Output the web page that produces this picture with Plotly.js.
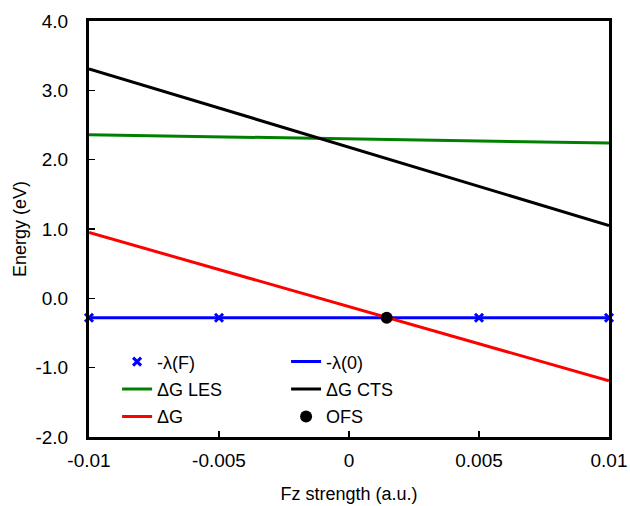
<!DOCTYPE html>
<html><head><meta charset="utf-8">
<script src="https://cdn.plot.ly/plotly-3.0.1.min.js"></script>
<style>body{margin:0;background:#fff}#c{width:630px;height:506px}</style>
</head><body><div id="c"></div>
<script>
// Data
const xEnds = [-0.01, 0.01];
const lambdaMarkX = [-0.01, -0.005, 0.005, 0.01];
const lambdaMarkY = [-0.28, -0.28, -0.28, -0.28];
const lambda0Y = [-0.28, -0.28];
const dgLES = [2.36, 2.24];
const dgCTS = [3.31, 1.05];
const dG = [0.95, -1.19];
const ofsX = [0.00145];
const ofsY = [-0.28];
const xTicks = [-0.01, -0.005, 0, 0.005, 0.01];
const xTickText = ['-0.01', '-0.005', '0', '0.005', '0.01'];
const yTicks = [-2, -1, 0, 1, 2, 3, 4];
const yTickText = ['-2.0', '-1.0', '0.0', '1.0', '2.0', '3.0', '4.0'];

const traces = [
  {x: xEnds, y: lambda0Y, mode: 'lines', name: '-λ(0)', line: {color: '#0000FF', width: 3}, legend: 'legend2', legendgroup: 'b', legendrank: 1},
  {x: lambdaMarkX, y: lambdaMarkY, mode: 'markers', name: '-λ(F)', marker: {symbol: 'x-thin', size: 8, color: '#0000FF', line: {color: '#0000FF', width: 3}}, legend: 'legend', legendgroup: 'a', legendrank: 1, cliponaxis: false},
  {x: xEnds, y: dgLES, mode: 'lines', name: 'ΔG LES', line: {color: '#008000', width: 3}, legend: 'legend', legendgroup: 'c', legendrank: 2},
  {x: xEnds, y: dgCTS, mode: 'lines', name: 'ΔG CTS', line: {color: '#000000', width: 3}, legend: 'legend2', legendgroup: 'd', legendrank: 2},
  {x: xEnds, y: dG, mode: 'lines', name: 'ΔG', line: {color: '#FF0000', width: 3}, legend: 'legend', legendgroup: 'e', legendrank: 3},
  {x: ofsX, y: ofsY, mode: 'markers', name: 'OFS', marker: {symbol: 'circle', size: 12, color: '#000000'}, legend: 'legend2', legendgroup: 'f', legendrank: 3}
];

const fam = 'Liberation Sans, Arial, sans-serif';
const legendBase = {
  orientation: 'v', bgcolor: 'rgba(0,0,0,0)', borderwidth: 0,
  font: {family: fam, size: 18, color: '#000'},
  tracegroupgap: 1, yanchor: 'top', xanchor: 'left', itemwidth: 30
};

const layout = {
  width: 630, height: 506,
  margin: {l: 89, r: 21, t: 21, b: 69},
  paper_bgcolor: '#fff', plot_bgcolor: '#fff',
  font: {family: fam, size: 19, color: '#000'},
  showlegend: true,
  xaxis: {
    range: [-0.01, 0.01], tickvals: xTicks, ticktext: xTickText,
    ticks: 'inside', ticklen: 6, tickwidth: 1.5, tickcolor: '#000',
    showline: true, linecolor: '#000', linewidth: 3, mirror: true,
    showgrid: false, zeroline: false, ticklabelstandoff: 4,
    tickfont: {size: 19},
    title: {text: 'Fz strength (a.u.)', font: {size: 18}, standoff: 18}
  },
  yaxis: {
    range: [-2, 4], tickvals: yTicks, ticktext: yTickText,
    ticks: 'inside', ticklen: 6, tickwidth: 1.5, tickcolor: '#000',
    showline: true, linecolor: '#000', linewidth: 3, mirror: true,
    showgrid: false, zeroline: false, ticklabelstandoff: 14,
    tickfont: {size: 19},
    title: {text: 'Energy (eV)', font: {size: 18}, standoff: 5}
  },
  legend: Object.assign({}, legendBase, {x: 0.054, y: 0.225}),
  legend2: Object.assign({}, legendBase, {x: 0.379, y: 0.225})
};

Plotly.newPlot('c', traces, layout, {displayModeBar: false, staticPlot: true});
</script></body></html>
